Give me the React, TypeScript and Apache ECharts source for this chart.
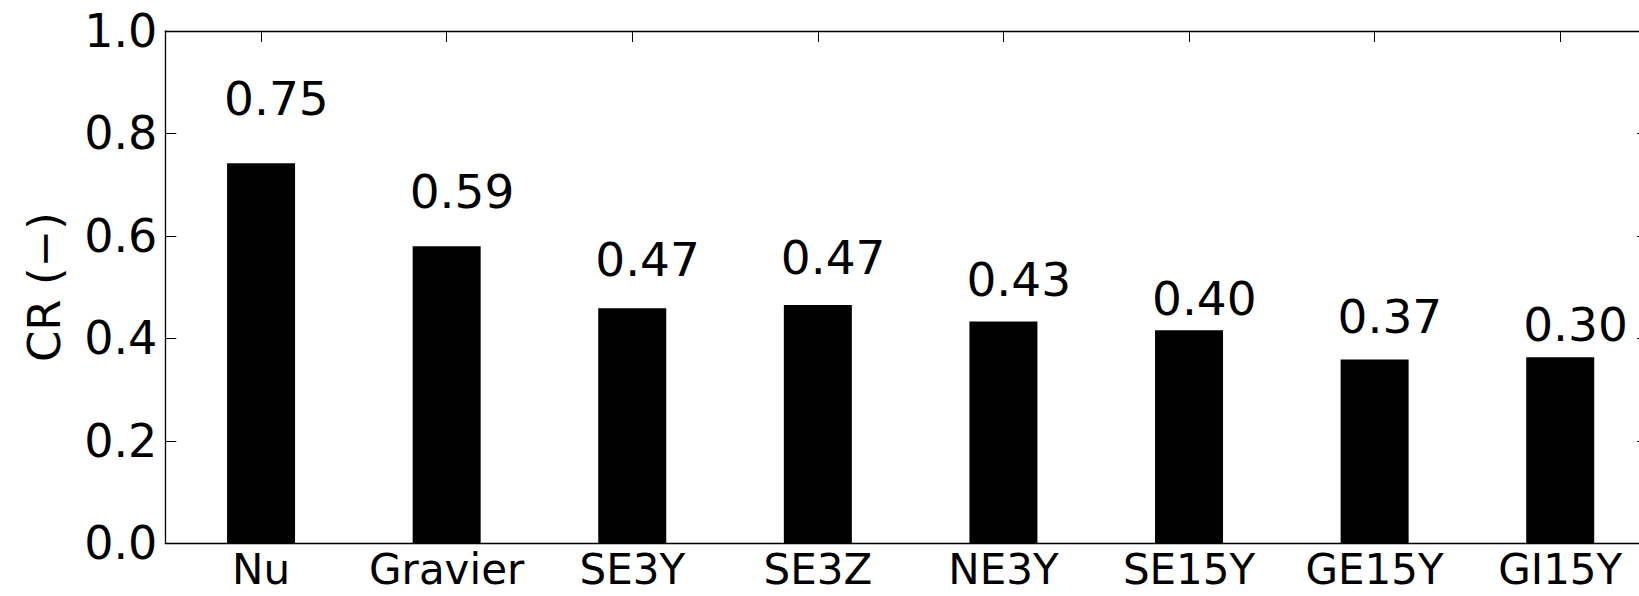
import React, { useEffect, useRef } from "react";
import * as echarts from "echarts";

const categories = ["Nu", "Gravier", "SE3Y", "SE3Z", "NE3Y", "SE15Y", "GE15Y", "GI15Y"];
const crValues = [0.742, 0.58, 0.459, 0.465, 0.433, 0.416, 0.359, 0.363];
const labelTexts = ["0.75", "0.59", "0.47", "0.47", "0.43", "0.40", "0.37", "0.30"];
const labelY = [0.869, 0.686, 0.554, 0.557, 0.515, 0.477, 0.442, 0.427];
const yTicks = [0, 0.2, 0.4, 0.6, 0.8, 1.0];

const FONT = "DejaVu Sans";

export default function App() {
  const ref = useRef<HTMLDivElement>(null);
  useEffect(() => {
    if (!ref.current) return;
    const chart = echarts.init(ref.current, null, { renderer: "svg" });
    const idx = categories.map((_, i) => i);
    const xMin = -0.516;
    const xMax = 7.473;
    const axisLine = { show: true, lineStyle: { color: "#000", width: 1.3 } };
    chart.setOption({
      animation: false,
      backgroundColor: "#fff",
      grid: { left: 165.3, top: 31, width: 1482.7, height: 512.3, containLabel: false },
      xAxis: [
        {
          type: "value",
          position: "bottom",
          min: xMin,
          max: xMax,
          axisLine: { ...axisLine, onZero: false },
          splitLine: { show: false },
          axisTick: { show: true, inside: true, length: 11, customValues: idx, lineStyle: { color: "#000" } },
          axisLabel: {
            show: true,
            customValues: idx,
            formatter: (v: number) => categories[Math.round(v)] ?? "",
            fontFamily: FONT,
            fontSize: 42,
            lineHeight: 36,
            color: "#000",
            margin: 8,
          },
        },
        {
          type: "value",
          position: "top",
          min: xMin,
          max: xMax,
          axisLine: { ...axisLine, onZero: false },
          splitLine: { show: false },
          axisTick: { show: true, inside: true, length: 11, customValues: idx, lineStyle: { color: "#000" } },
          axisLabel: { show: false },
        },
      ],
      yAxis: [
        {
          type: "value",
          position: "left",
          min: 0,
          max: 1,
          interval: 0.2,
          axisLine: { ...axisLine, onZero: false },
          splitLine: { show: false },
          axisTick: { show: true, inside: true, length: 11, lineStyle: { color: "#000" } },
          axisLabel: {
            show: true,
            customValues: yTicks,
            formatter: (v: number) => v.toFixed(1),
            fontFamily: FONT,
            fontSize: 46,
            color: "#000",
            margin: 8,
          },
          name: "CR (\u2212)",
          nameLocation: "middle",
          nameGap: 98,
          nameRotate: 90,
          nameTextStyle: { fontFamily: FONT, fontSize: 45, color: "#000" },
        },
        {
          type: "value",
          position: "right",
          min: 0,
          max: 1,
          interval: 0.2,
          axisLine: { ...axisLine, onZero: false },
          splitLine: { show: false },
          axisTick: { show: true, inside: true, length: 11, lineStyle: { color: "#000" } },
          axisLabel: { show: false },
        },
      ],
      series: [
        {
          type: "bar",
          xAxisIndex: 0,
          yAxisIndex: 0,
          barWidth: 68,
          data: crValues.map((v, i) => [i, v]),
          itemStyle: { color: "#000" },
          z: 3,
        },
        {
          type: "scatter",
          xAxisIndex: 0,
          yAxisIndex: 0,
          symbolSize: 0,
          itemStyle: { color: "#000" },
          data: labelY.map((y, i) => [i, y]),
          label: {
            show: true,
            position: "inside",
            align: "left",
            verticalAlign: "middle",
            offset: [-37, 0],
            formatter: (p: any) => labelTexts[p.dataIndex],
            fontFamily: FONT,
            fontSize: 47,
            color: "#000",
            opacity: 1,
            textBorderWidth: 0,
          },
          emphasis: { disabled: true },
          z: 4,
        },
      ],
    });
    return () => chart.dispose();
  }, []);
  return (
    <div style={{ position: "fixed", left: 0, top: 0, width: 1639, height: 596, overflow: "hidden", background: "#fff" }}>
      <div ref={ref} style={{ width: 1690, height: 596 }} />
    </div>
  );
}
